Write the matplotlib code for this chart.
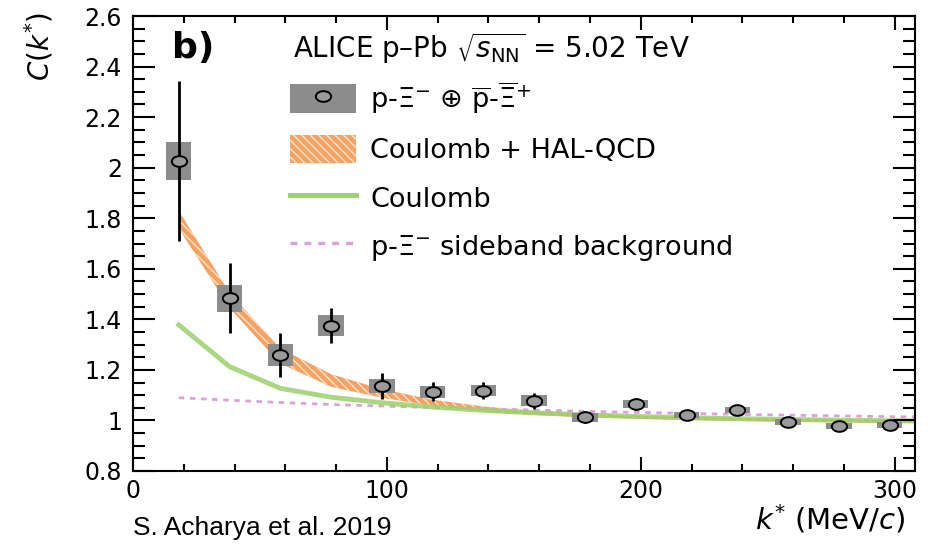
import matplotlib.pyplot as plt
from matplotlib.path import Path
from matplotlib.transforms import Affine2D
from matplotlib.patches import Patch
from matplotlib.lines import Line2D
from matplotlib.ticker import MultipleLocator, FormatStrFormatter

plt.rcParams['font.family'] = ['DejaVu Sans']
plt.rcParams['mathtext.fontset'] = 'dejavusans'
plt.rcParams['hatch.linewidth'] = 1.0

# measured p-Xi correlation
k_data = [18, 38, 58, 78, 98, 118, 138, 158, 178, 198, 218, 238, 258, 278, 298]
c_data = [2.026, 1.483, 1.259, 1.375, 1.136, 1.114, 1.118, 1.078, 1.012, 1.065,
          1.022, 1.041, 0.995, 0.978, 0.982]
c_stat = [0.318, 0.139, 0.086, 0.068, 0.050, 0.038, 0.033, 0.032, 0.024, 0.022,
          0.020, 0.018, 0.016, 0.015, 0.015]
c_syst = [0.076, 0.053, 0.042, 0.042, 0.028, 0.024, 0.023, 0.021, 0.018, 0.016,
          0.013, 0.013, 0.012, 0.012, 0.012]

# models
k_mod = [18, 38, 58, 78, 98, 118, 138, 158, 178, 198, 218, 238, 258, 278, 298, 308]
hal_mid = [1.795, 1.475, 1.255, 1.158, 1.107, 1.070, 1.045, 1.030, 1.020, 1.013,
           1.008, 1.004, 1.001, 0.999, 0.997, 0.996]
hal_err = [0.035, 0.030, 0.030, 0.025, 0.017, 0.012, 0.010, 0.008, 0.007, 0.006,
           0.006, 0.006, 0.006, 0.006, 0.006, 0.006]
coulomb = [1.378, 1.213, 1.127, 1.092, 1.070, 1.053, 1.040, 1.030, 1.022, 1.016,
           1.011, 1.007, 1.004, 1.001, 0.999, 0.998]
sideband = [1.090, 1.080, 1.071, 1.063, 1.057, 1.051, 1.046, 1.041, 1.036, 1.032,
            1.028, 1.024, 1.021, 1.018, 1.015, 1.014]

gray = '#8c8c8c'
orange = '#f5a262'
hatch_col = '#fde3cc'
green = '#9bd16c'
pink = '#d9a3d9'

ell = Path.unit_circle().transformed(Affine2D().scale(1.0, 0.7))

fig = plt.figure(figsize=(9.33, 5.45), dpi=100)
ax = fig.add_axes([0.1426, 0.1358, 0.8381, 0.8348])

hal_lo = [m - e for m, e in zip(hal_mid, hal_err)]
hal_hi = [m + e for m, e in zip(hal_mid, hal_err)]
ax.fill_between(k_mod, hal_lo, hal_hi, facecolor=orange, edgecolor=hatch_col,
                hatch='\\\\\\\\', linewidth=0, zorder=1)
ax.plot(k_mod, sideband, color=pink, lw=2, ls=(0, (2, 2)), zorder=1.2)
ax.plot(k_mod, coulomb, color=green, lw=3.5, alpha=0.85, zorder=1.5)

ax.bar(k_data, [2 * s for s in c_syst], bottom=[c - s for c, s in zip(c_data, c_syst)],
       width=10, color=gray, linewidth=0, zorder=2)
ax.errorbar(k_data, c_data, yerr=c_stat, fmt='none', ecolor='black',
            elinewidth=2, capsize=0, zorder=3)
ax.plot(k_data, c_data, ls='none', marker=ell, ms=11, mfc='#9a9a9a',
        mec='black', mew=1.4, zorder=4)

ax.set_xlim(0, 308)
ax.set_ylim(0.8, 2.6)
ax.xaxis.set_major_locator(MultipleLocator(100))
ax.xaxis.set_minor_locator(MultipleLocator(20))
ax.yaxis.set_major_locator(MultipleLocator(0.2))
ax.yaxis.set_minor_locator(MultipleLocator(0.05))
ax.yaxis.set_major_formatter(FormatStrFormatter('%g'))
ax.tick_params(which='both', direction='in', top=True, right=True, width=1.5,
               labelsize=17)
ax.tick_params(axis='x', which='major', length=10, pad=6)
ax.tick_params(axis='x', which='minor', length=5)
ax.tick_params(axis='y', which='major', length=16, pad=8)
ax.tick_params(axis='y', which='minor', length=8.5)
for sp in ax.spines.values():
    sp.set_linewidth(1.5)

ax.set_ylabel(r'$C(k^{*})$', fontsize=20, loc='top')
ax.yaxis.set_label_coords(-0.099, 1.01)
ax.set_xlabel(r'$k^{*}$ (MeV/$c$)', fontsize=21, loc='right')
ax.xaxis.set_label_coords(0.987, -0.07)

ax.text(0.05, 0.93, 'b)', transform=ax.transAxes, fontsize=26,
        fontweight='bold', va='center')
ax.text(0.2045, 0.93, r'ALICE p–Pb $\sqrt{s_{\mathrm{NN}}}$ = 5.02 TeV',
        transform=ax.transAxes, fontsize=20, va='center')

h_data = (Patch(facecolor=gray, edgecolor='none'),
          Line2D([], [], ls='none', marker=ell, ms=11, mfc='#9a9a9a',
                 mec='black', mew=1.4))
h_band = Patch(facecolor=orange, edgecolor=hatch_col, hatch='\\\\\\\\', linewidth=0)
h_coul = Line2D([], [], color=green, lw=3.5)
h_side = Line2D([], [], color=pink, lw=2.5, ls=(0, (2, 2)))
labels = [r'p-$\Xi^{-}$ $\oplus$ $\overline{\mathrm{p}}$-$\overline{\Xi}^{+}$',
          'Coulomb + HAL-QCD', 'Coulomb', r'p-$\Xi^{-}$ sideband background']
ax.legend([h_data, h_band, h_coul, h_side], labels, loc='upper left',
          bbox_to_anchor=(0.2008, 0.8615), frameon=False, fontsize=19.5,
          borderpad=0, borderaxespad=0, handlelength=2.44, handleheight=1.25,
          handletextpad=0.52, labelspacing=0.70)

fig.text(0.1426, 0.0183, 'S. Acharya et al. 2019', fontsize=19, va='baseline',
         family=['Liberation Sans Narrow', 'Liberation Sans'])

fig.savefig('out.png', dpi=100)
